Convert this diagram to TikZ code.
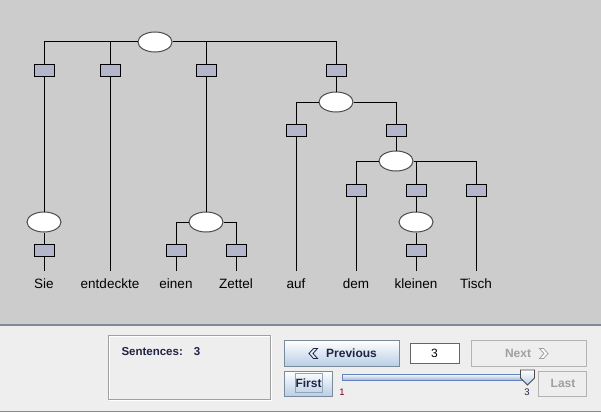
\documentclass[tikz,border=0pt]{standalone}
\usepackage{fontspec}
\setmainfont{Liberation Sans}
\usetikzlibrary{shapes.geometric}
\definecolor{treebg}{HTML}{CCCCCC}
\definecolor{lowbg}{HTML}{EEEEEE}
\definecolor{tagfill}{HTML}{B4B6CC}
\definecolor{sepline}{HTML}{7F8A99}
\definecolor{ocean}{HTML}{B8CFE5}
\definecolor{btnedge}{HTML}{7A8A99}
\definecolor{labtext}{HTML}{222244}
\definecolor{offtext}{HTML}{A0A0A0}
\definecolor{trackedge}{HTML}{6382BF}
\begin{document}
\begin{tikzpicture}[x=1pt, y=-1pt, line width=1pt,
  knot/.style={ellipse, draw=black!70, fill=white, minimum width=34pt, minimum height=20pt, inner sep=0pt},
  tag/.style={rectangle, draw, fill=tagfill, minimum width=20pt, minimum height=12pt, inner sep=0pt},
  word/.style={anchor=base, font=\fontsize{13.5}{16}\selectfont, text height=10pt, text depth=3pt, inner ysep=7pt, inner xsep=0pt},
  btn/.style={rectangle, draw=btnedge, line width=.8pt, top color=white, bottom color=ocean, inner sep=0pt},
  offbtn/.style={rectangle, draw=offtext!80, line width=.8pt, fill=lowbg, inner sep=0pt},
  btntext/.style={font=\fontsize{12}{14}\bfseries, text=labtext, inner sep=0pt},
  offtxt/.style={font=\fontsize{12}{14}\bfseries, text=offtext, inner sep=0pt}]
 \useasboundingbox (0,0) rectangle (601,412);
 % panels
 \fill[treebg] (0,0) rectangle (601,325);
 \fill[lowbg] (0,325) rectangle (601,412);
 \draw[sepline, line width=1.3pt] (0,325) -- (601,325);
 \draw[sepline, line width=1.3pt] (0,411.3) -- (601,411.3);

 % tree
 \node[knot] (root) at (155,42) {};
 \foreach \n/\x in {t1/44, t2/110, t3/206, t4/336}
 {
     \node[tag] (\n) at (\x,70) {};
 }
 \node[knot] (pp) at (336,102) {};
 \node[tag] (t4a) at (296,130) {};
 \node[tag] (t4b) at (396,130) {};
 \node[knot] (np2) at (396,161) {};
 \foreach \n/\x in {t5a/356, t5b/416, t5c/476}
 {
     \node[tag] (\n) at (\x,190) {};
 }
 \node[knot] (np0) at (44,222) {};
 \node[knot] (np1) at (206,222) {};
 \node[knot] (ap) at (416,222) {};
 \foreach \n/\x in {t1b/44, t3a/176, t3b/236, t5d/416}
 {
     \node[tag] (\n) at (\x,250) {};
 }
 \foreach \n/\x in {Sie/44, entdeckte/110, einen/176, Zettel/236, auf/296, dem/356, kleinen/416, Tisch/476}
 {
     \node[word] (w\n) at (\x,288) {\n};
 }
 \foreach \a/\b in {root/t1, root/t2, root/t3, root/t4, pp/t4a, pp/t4b, np2/t5a, np2/t5b, np2/t5c, np1/t3a, np1/t3b}
 {
     \draw (\a) -| (\b);
 }
 \foreach \a/\b in {t1/np0, np0/t1b, t1b/wSie, t2/wentdeckte, t3/np1, t3a/weinen, t3b/wZettel,
                    t4/pp, t4a/wauf, t4b/np2, t5a/wdem, t5b/ap, ap/t5d, t5d/wkleinen, t5c/wTisch}
 {
     \draw (\a) -- (\b);
 }

 % sentence count box
 \draw[white, line width=.8pt] (109,336) rectangle (271,400);
 \draw[offtext, line width=.8pt] (108,335) rectangle (270,399);
 \node[btntext, font=\fontsize{11.5}{14}\bfseries, anchor=west] (count) at (121,352) {Sentences:\hspace{11pt}3};

 % buttons
 \node[btn, minimum width=115pt, minimum height=26pt] (prev) at (341.5,353) {};
 \node[btntext] (prevtxt) at (351.5,353) {Previous};
 \draw[labtext, line width=.8pt, fill=ocean!40] (313.5,348.5) -- (309,353.5) -- (313.5,358.5) -- (317.5,358.5) -- (313,353.5) -- (317.5,348.5) -- cycle;
 \node[rectangle, draw=black!60, fill=white, line width=.8pt, minimum width=49pt, minimum height=20pt, inner sep=0pt] (field) at (434.5,353) {};
 \node[font=\fontsize{12}{14}\selectfont, inner sep=0pt] (fieldtxt) at (434.5,353) {3};
 \node[offbtn, minimum width=115pt, minimum height=26pt] (next) at (528.5,353) {};
 \node[offtxt] (nexttxt) at (518,353) {Next};
 \draw[offtext, line width=.8pt, fill=white] (543.5,348.5) -- (548,353.5) -- (543.5,358.5) -- (539.5,358.5) -- (544,353.5) -- (539.5,348.5) -- cycle;
 \node[btn, minimum width=48pt, minimum height=25pt] (first) at (308,383.5) {};
 \node[rectangle, draw=ocean!80!black, line width=.6pt, minimum width=27pt, minimum height=19pt, inner sep=0pt] (focus) at (308.5,383) {};
 \node[btntext] (firsttxt) at (308.5,383.5) {First};
 \node[offbtn, minimum width=48pt, minimum height=25pt] (last) at (562,383.5) {};
 \node[offtxt] (lasttxt) at (563,383.5) {Last};

 % slider
 \shade[top color=white, bottom color=ocean!70!trackedge] (342,374) rectangle (527,380);
 \draw[trackedge, line width=.8pt] (342,374) rectangle (527,380);
 \draw[black!70, line width=.8pt, top color=white, bottom color=ocean] (520.5,370) -- (534.5,370) -- (534.5,378) -- (527.5,385) -- (520.5,378) -- cycle;
 \node[font=\fontsize{9.5}{11}\selectfont, text=purple!60!black, inner sep=0pt] (lo) at (342,392) {1};
 \node[font=\fontsize{9.5}{11}\selectfont, text=labtext, inner sep=0pt] (hi) at (527,392) {3};
\end{tikzpicture}
\end{document}
